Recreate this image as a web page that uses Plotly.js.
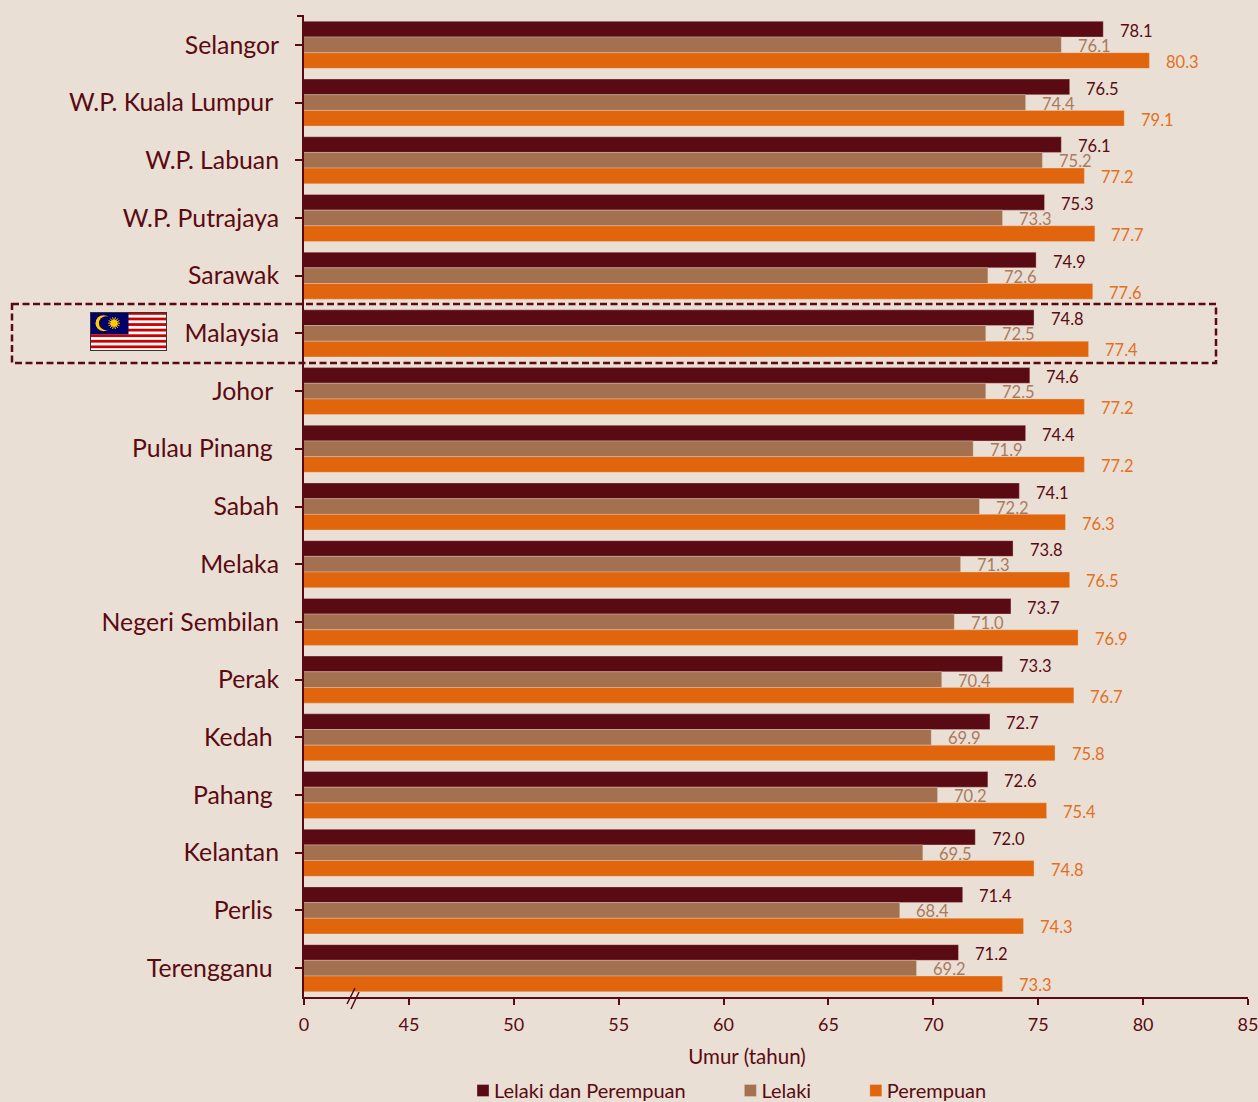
<!DOCTYPE html>
<html>
<head>
<meta charset="utf-8">
<script src="https://cdn.plot.ly/plotly-3.0.1.min.js"></script>
<style>html,body{margin:0;padding:0;background:#EADFD4;}#chart{width:1258px;height:1102px;}</style>
</head>
<body>
<div id="chart"></div>
<script>
var NB = "\u00A0";
var categories = ["Selangor","W.P. Kuala Lumpur"+NB,"W.P. Labuan","W.P. Putrajaya","Sarawak","Malaysia","Johor"+NB,"Pulau Pinang"+NB,"Sabah","Melaka","Negeri Sembilan","Perak","Kedah"+NB,"Pahang"+NB,"Kelantan","Perlis"+NB,"Terengganu"+NB];
var semua = [78.1,76.5,76.1,75.3,74.9,74.8,74.6,74.4,74.1,73.8,73.7,73.3,72.7,72.6,72.0,71.4,71.2];
var lelaki = [76.1,74.4,75.2,73.3,72.6,72.5,72.5,71.9,72.2,71.3,71.0,70.4,69.9,70.2,69.5,68.4,69.2];
var perempuan = [80.3,79.1,77.2,77.7,77.6,77.4,77.2,77.2,76.3,76.5,76.9,76.7,75.8,75.4,74.8,74.3,73.3];
var legendPad = NB.repeat(6);
var seriesNames = ["Lelaki dan Perempuan"+legendPad,"Lelaki"+legendPad,"Perempuan"];
var xTickVals = [40,45,50,55,60,65,70,75,80,85];
var xTickText = ["0","45","50","55","60","65","70","75","80","85"];
var xTitle = "Umur (tahun)";

var FONT = "Lato, Carlito, sans-serif";
var BG = "#EADFD4", DARK = "#5A0A12", MID = "#A37050", ORANGE = "#E0650D";
var seriesColors = [DARK, MID, ORANGE];
var labelColors = [DARK, "#A87A60", "#E2701F"];
var seriesValues = [semua, lelaki, perempuan];
var labelShift = [14, -1, -17];

var L = 304, R = 1248, T = 16, B = 997;
function px(x){ return (x - L) / (R - L); }
function py(y){ return 1 - (y - T) / (B - T); }

var traces = seriesValues.map(function(vals, i){
  return {
    type: "bar", orientation: "h", name: seriesNames[i],
    x: vals, y: categories,
    marker: {color: seriesColors[i], line: {color: "rgba(234,223,212,0.45)", width: 0.75}},
    hoverinfo: "x+y+name"
  };
});

var annotations = [];
seriesValues.forEach(function(vals, i){
  vals.forEach(function(v, j){
    annotations.push({
      x: v, y: categories[j], xref: "x", yref: "y",
      text: v.toFixed(1), showarrow: false, xanchor: "left", yanchor: "middle",
      xshift: 14.5, yshift: labelShift[i],
      font: {family: FONT, size: 16.5, color: labelColors[i]}
    });
  });
});

function flagSvg(){
  var s = '<svg xmlns="http://www.w3.org/2000/svg" width="154" height="78" viewBox="0 0 154 78">';
  s += '<rect width="154" height="78" fill="#fff"/>';
  for (var i = 0; i < 14; i += 2) s += '<rect x="0" y="' + (i * 78 / 14) + '" width="154" height="' + (78 / 14) + '" fill="#CC0000"/>';
  s += '<rect width="77" height="44.6" fill="#000066"/>';
  s += '<circle cx="27" cy="22.3" r="16" fill="#FFCC00"/><circle cx="32" cy="22.3" r="14" fill="#000066"/>';
  for (var k = 0; k < 14; k++) {
    var a = k * Math.PI / 7;
    s += '<line x1="48" y1="22.3" x2="' + (48 + 12 * Math.cos(a)) + '" y2="' + (22.3 + 12 * Math.sin(a)) + '" stroke="#FFCC00" stroke-width="2"/>';
  }
  s += '<circle cx="48" cy="22.3" r="7" fill="#FFCC00"/>';
  s += '<rect x="1" y="1" width="152" height="76" fill="none" stroke="#333" stroke-width="2"/></svg>';
  return "data:image/svg+xml;charset=utf-8," + encodeURIComponent(s);
}

var shapes = [
  {type:"rect", xref:"paper", yref:"paper", x0:px(12), x1:px(1216), y0:py(304), y1:py(363),
   line:{color:DARK, width:2.5, dash:"7px,3.5px"}, fillcolor:"rgba(0,0,0,0)", layer:"above"},
  {type:"line", xref:"paper", yref:"paper", x0:px(297), x1:px(304), y0:py(T), y1:py(T), line:{color:DARK,width:2}},
  {type:"line", xref:"paper", yref:"paper", x0:px(347), x1:px(355), y0:py(1004), y1:py(988), line:{color:DARK,width:1.5}},
  {type:"line", xref:"paper", yref:"paper", x0:px(351), x1:px(359), y0:py(1009), y1:py(992), line:{color:DARK,width:1.5}}
];

var layout = {
  width: 1258, height: 1102,
  margin: {l: L, r: 1258 - R, t: T, b: 1102 - B, pad: 0, autoexpand: false},
  paper_bgcolor: BG, plot_bgcolor: BG,
  font: {family: FONT, color: DARK},
  barmode: "group", bargap: 0.185, bargroupgap: 0,
  xaxis: {
    range: [40, 85], tickmode: "array", tickvals: xTickVals, ticktext: xTickText,
    showgrid: false, zeroline: false, showline: true, linecolor: DARK, linewidth: 2,
    ticks: "outside", ticklen: 6, tickwidth: 2, tickcolor: DARK,
    tickfont: {family: FONT, size: 18, color: DARK}, ticklabelstandoff: 4, ticklabeloverflow: "allow",
    title: {text: xTitle, font: {family: FONT, size: 20.5, color: DARK}, standoff: 16}
  },
  yaxis: {
    type: "category", range: [16.5, -0.5], categoryorder: "array", categoryarray: categories,
    tickmode: "linear", dtick: 1,
    showgrid: false, zeroline: false, showline: true, linecolor: DARK, linewidth: 2,
    ticks: "outside", ticklen: 7, tickwidth: 2, tickcolor: DARK,
    tickfont: {family: FONT, size: 24.8, color: DARK}, ticklabelstandoff: 11
  },
  showlegend: true,
  legend: {
    orientation: "h", x: px(454), xanchor: "left", y: py(1071), yanchor: "top",
    bgcolor: "rgba(0,0,0,0)", font: {family: FONT, size: 20, color: DARK},
    traceorder: "normal", itemclick: false, itemdoubleclick: false
  },
  annotations: annotations,
  shapes: shapes,
  images: [{source: flagSvg(), xref:"paper", yref:"paper", x:px(90), y:py(312), sizex:px(167)-px(90), sizey:py(312)-py(351),
    xanchor:"left", yanchor:"top", sizing:"stretch", layer:"above"}]
};

Plotly.newPlot("chart", traces, layout, {displayModeBar: false}).then(function(){
  document.querySelectorAll("#chart .legend .legendsymbols").forEach(function(g){
    g.setAttribute("transform", "translate(9,0)");
  });
  var t = document.querySelector("#chart .xtitle");
  if (t) t.setAttribute("x", String(parseFloat(t.getAttribute("x")) - 29));
});
</script>
</body>
</html>
